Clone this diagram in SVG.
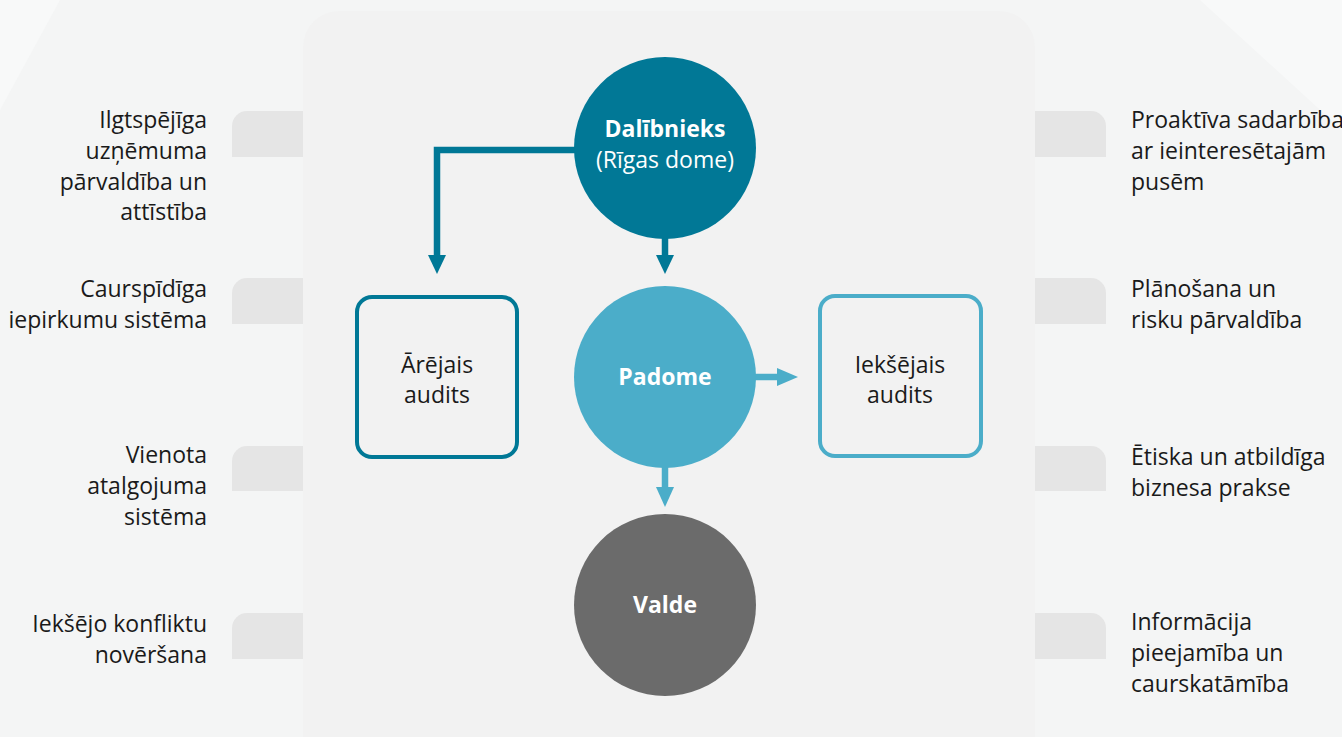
<svg xmlns="http://www.w3.org/2000/svg" width="1342" height="737" viewBox="0 0 1342 737">
<defs>
<style>
.lbl{font-family:"Open Sans","Noto Sans",sans-serif;font-size:23px;fill:#1a1a1a}
.r{text-anchor:end}
.c{text-anchor:middle}
.w{fill:#ffffff}
.b{font-weight:bold}
.tab{fill:#e5e5e5}
.dk{stroke:#007896}
.lt{stroke:#4badc9}
</style>
</defs>
<rect width="1342" height="737" fill="#f4f5f5"/>
<polygon points="0,0 60,0 0,110" fill="#f8f9f9"/>
<polygon points="1200,0 1342,0 1342,130" fill="#f8f9f9"/>
<rect x="303" y="11" width="732" height="780" rx="36" fill="#f2f2f2"/>
<g id="tabs">
<path class="tab" d="M232,126 a15,15 0 0 1 15,-15 H303 V157 H232 Z"/>
<path class="tab" d="M232,293 a15,15 0 0 1 15,-15 H303 V324 H232 Z"/>
<path class="tab" d="M232,461 a15,15 0 0 1 15,-15 H303 V491 H232 Z"/>
<path class="tab" d="M232,628 a15,15 0 0 1 15,-15 H303 V659 H232 Z"/>
<path class="tab" d="M1106,126 a15,15 0 0 0 -15,-15 H1035 V157 H1106 Z"/>
<path class="tab" d="M1106,293 a15,15 0 0 0 -15,-15 H1035 V324 H1106 Z"/>
<path class="tab" d="M1106,461 a15,15 0 0 0 -15,-15 H1035 V491 H1106 Z"/>
<path class="tab" d="M1106,628 a15,15 0 0 0 -15,-15 H1035 V659 H1106 Z"/>
</g>
<g id="left-labels">
<text class="lbl r" x="207" y="128">Ilgtspējīga</text>
<text class="lbl r" x="207" y="159">uzņēmuma</text>
<text class="lbl r" x="207" y="190">pārvaldība un</text>
<text class="lbl r" x="207" y="220">attīstība</text>
<text class="lbl r" x="207" y="297">Caurspīdīga</text>
<text class="lbl r" x="207" y="328">iepirkumu sistēma</text>
<text class="lbl r" x="207" y="463">Vienota</text>
<text class="lbl r" x="207" y="494">atalgojuma</text>
<text class="lbl r" x="207" y="525">sistēma</text>
<text class="lbl r" x="207" y="632">Iekšējo konfliktu</text>
<text class="lbl r" x="207" y="663">novēršana</text>
</g>
<g id="right-labels">
<text class="lbl" x="1131" y="128">Proaktīva sadarbība</text>
<text class="lbl" x="1131" y="159">ar ieinteresētajām</text>
<text class="lbl" x="1131" y="190">pusēm</text>
<text class="lbl" x="1131" y="297">Plānošana un</text>
<text class="lbl" x="1131" y="328">risku pārvaldība</text>
<text class="lbl" x="1131" y="465">Ētiska un atbildīga</text>
<text class="lbl" x="1131" y="496">biznesa prakse</text>
<text class="lbl" x="1131" y="630">Informācija</text>
<text class="lbl" x="1131" y="661">pieejamība un</text>
<text class="lbl" x="1131" y="692">caurskatāmība</text>
</g>
<g id="connectors" fill="none" stroke-width="6.5">
<path class="dk" d="M576,150 H437 V258"/>
<polygon points="428,255 446,255 437,274" fill="#007896" stroke="none"/>
<path class="dk" d="M665,236 V258"/>
<polygon points="656,255 674,255 665,274" fill="#007896" stroke="none"/>
<path class="lt" d="M665,465 V490"/>
<polygon points="656,487 674,487 665,507" fill="#4badc9" stroke="none"/>
<path class="lt" d="M754,377 H780"/>
<polygon points="777,368 777,386 798,377" fill="#4badc9" stroke="none"/>
</g>
<g id="dalibnieks">
<circle cx="665" cy="148" r="91" fill="#017896"/>
<text class="lbl c w b" x="665" y="137">Dalībnieks</text>
<text class="lbl c w" x="665" y="168">(Rīgas dome)</text>
</g>
<g id="padome">
<circle cx="665" cy="377" r="91" fill="#4badc9"/>
<text class="lbl c w b" x="665" y="385">Padome</text>
</g>
<g id="valde">
<circle cx="665" cy="605" r="91" fill="#6b6b6b"/>
<text class="lbl c w b" x="665" y="613">Valde</text>
</g>
<g id="arejais-audits">
<rect x="357" y="297" width="160" height="160" rx="15" fill="none" stroke="#007896" stroke-width="4"/>
<text class="lbl c" x="437" y="373">Ārējais</text>
<text class="lbl c" x="437" y="403">audits</text>
</g>
<g id="ieksejais-audits">
<rect x="820" y="296" width="161" height="160" rx="15" fill="none" stroke="#4badc9" stroke-width="4"/>
<text class="lbl c" x="900" y="373">Iekšējais</text>
<text class="lbl c" x="900" y="403">audits</text>
</g>
</svg>
